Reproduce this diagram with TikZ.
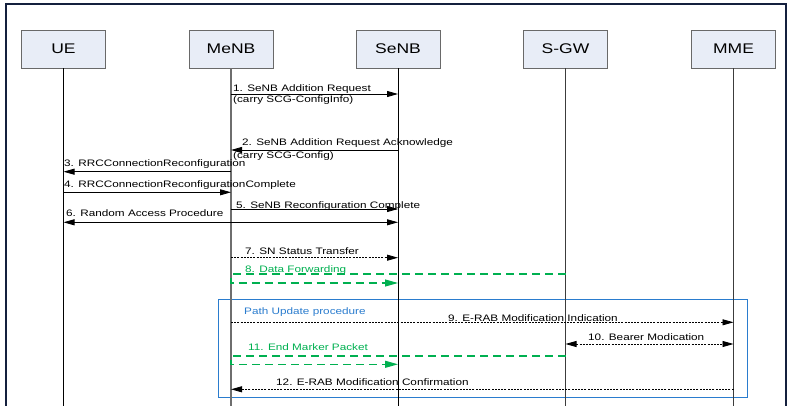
\documentclass[tikz,border=0pt]{standalone}
\usepackage{fontspec}
\setmainfont{Liberation Sans}
\newfontfamily\lblfont[FakeStretch=1.25]{Liberation Sans}
\usetikzlibrary{arrows.meta}
\definecolor{framenavy}{RGB}{20,32,62}
\definecolor{boxfill}{RGB}{232,237,247}
\definecolor{boxline}{RGB}{105,105,105}
\definecolor{fwdgreen}{RGB}{0,176,80}
\definecolor{pathblue}{RGB}{42,124,206}
\definecolor{lifegray}{RGB}{110,110,110}
\definecolor{lifedark}{RGB}{60,60,60}

\begin{document}
\begin{tikzpicture}[x=1pt,y=-1pt,
  actor/.style={draw=boxline, fill=boxfill, line width=0.8pt,
    minimum width=84pt, minimum height=38pt, inner sep=0pt,
    font=\lblfont\fontsize{14}{16}\selectfont},
  lifeline/.style={line width=1pt},
  tip/.style={-{Triangle[length=11pt,width=6pt]}},
  msg/.style={line width=0.8pt, tip},
  dmsg/.style={line width=0.8pt, dash pattern=on 2pt off 1.2pt, tip},
  fwd/.style={fwdgreen, line width=1.1pt, dash pattern=on 8pt off 5pt,
    -{Triangle[length=13pt,width=7pt]}},
  lbl/.style={anchor=base west, inner sep=0pt,
    font=\lblfont\fontsize{9.4}{11}\selectfont},
  both/.style={{Triangle[length=11pt,width=6pt]}-{Triangle[length=11pt,width=6pt]}},
]
\useasboundingbox (0,0) rectangle (789,406);
\coordinate (bot) at (0,406);

% outer frame
\draw[framenavy, line width=2.5pt] (6,406) -- (6,4) -- (786,4) -- (786,406);

% participants
\node[actor] (ue)   at (63.5,49) {UE};
\node[actor] (menb) at (231,49)  {MeNB};
\node[actor] (senb) at (398,49)  {SeNB};
\node[actor] (sgw)  at (565.5,49) {S-GW};
\node[actor] (mme)  at (733.5,49) {MME};

% path update frame
\node[draw=pathblue, line width=1.2pt, inner sep=0pt, anchor=north west,
      minimum width=529pt, minimum height=98pt] (pathbox) at (218,299) {};
\node[lbl, text=pathblue] (pathlbl) at (244,314) {Path Update procedure};

% lifelines
\draw[lifeline] (ue.south) -- (ue.south |- bot);
\draw[lifeline, lifegray, line width=1.6pt] (menb.south) -- (menb.south |- bot);
\draw[lifeline] (senb.south) -- (senb.south |- bot);
\draw[lifeline, lifedark] (sgw.south) -- (sgw.south |- bot);
\draw[lifeline, lifedark] (mme.south) -- (mme.south |- bot);

% 1
\draw[msg] (menb |- 0,94) -- (senb |- 0,94);
\node[lbl] (l1a) at (233,91.5) {1. SeNB Addition Request};
\node[lbl] (l1b) at (233,103) {(carry SCG-ConfigInfo)};
% 2
\draw[msg] (senb |- 0,150) -- (menb |- 0,150);
\node[lbl] (l2a) at (242,146) {2. SeNB Addition Request Acknowledge};
\node[lbl] (l2b) at (233,158.5) {(carry SCG-Config)};
% 3
\draw[msg] (menb |- 0,171.7) -- (ue |- 0,171.7);
\node[lbl] (l3) at (64,166.7) {3. RRCConnectionReconfiguration};
% 4
\draw[msg] (ue |- 0,192.3) -- (menb |- 0,192.3);
\node[lbl] (l4) at (64,187.7) {4. RRCConnectionReconfigurationComplete};
% 5
\draw[msg] (menb |- 0,209) -- (senb |- 0,209);
\node[lbl] (l5) at (236,208.4) {5. SeNB Reconfiguration Complete};
% 6
\draw[msg, both] (ue |- 0,222.3) -- (senb |- 0,222.3);
\node[lbl] (l6) at (66,216.7) {6. Random Access Procedure};
% 7
\draw[dmsg] (menb |- 0,257.7) -- (senb |- 0,257.7);
\node[lbl] (l7) at (245,254) {7. SN Status Transfer};
% 8
\draw[fwd] (sgw |- 0,274) -- (menb |- 0,274) -- (menb |- 0,283) -- (senb |- 0,283);
\node[lbl, text=fwdgreen] (l8) at (245,272) {8. Data Forwarding};
% 9
\draw[dmsg] (menb |- 0,322.3) -- (mme |- 0,322.3);
\node[lbl] (l9) at (448,321) {9. E-RAB Modification Indication};
% 10
\draw[dmsg, both] (sgw |- 0,344) -- (mme |- 0,344);
\node[lbl] (l10) at (588,340) {10. Bearer Modication};
% 11
\draw[fwd] (sgw |- 0,356) -- (menb |- 0,356) -- (menb |- 0,364.3) -- (senb |- 0,364.3);
\node[lbl, text=fwdgreen] (l11) at (248,350) {11. End Marker Packet};
% 12
\draw[dmsg] (mme |- 0,389.3) -- (menb |- 0,389.3);
\node[lbl] (l12) at (276,385) {12. E-RAB Modification Confirmation};
\end{tikzpicture}
\end{document}
